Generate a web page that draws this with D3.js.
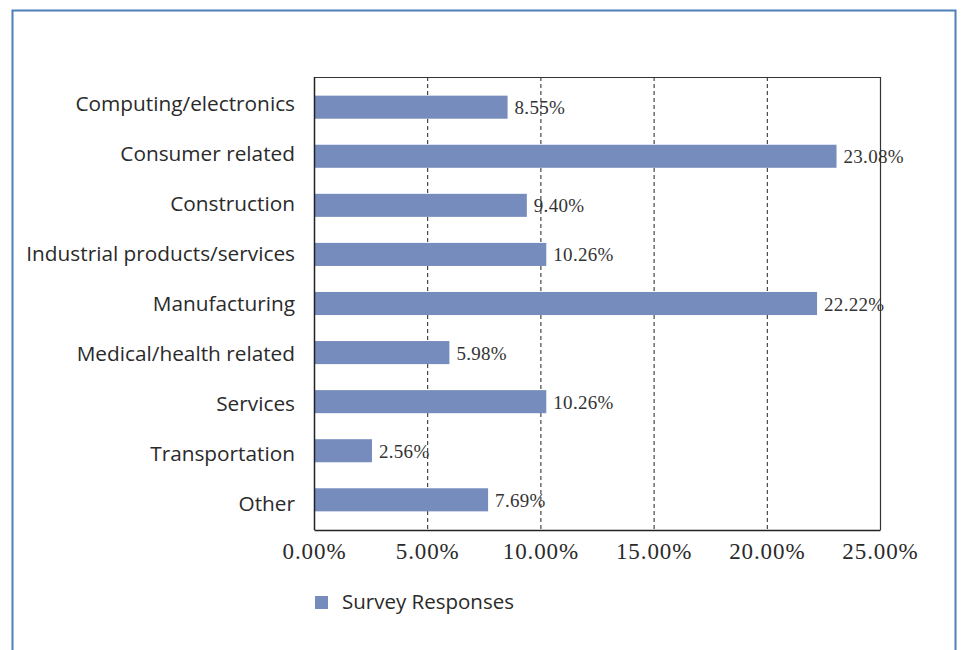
<!DOCTYPE html>
<html>
<head>
<meta charset="utf-8">
<script src="https://cdn.jsdelivr.net/npm/d3@7"></script>
<style>
  html, body { margin: 0; padding: 0; background: #fff; }
  svg { display: block; }
</style>
</head>
<body>
<svg id="chart" width="962" height="650"></svg>
<script>
// Industry breakdown of survey responses (percent of respondents)
const categories = [
  "Computing/electronics",
  "Consumer related",
  "Construction",
  "Industrial products/services",
  "Manufacturing",
  "Medical/health related",
  "Services",
  "Transportation",
  "Other"
];
const values = [8.55, 23.08, 9.40, 10.26, 22.22, 5.98, 10.26, 2.56, 7.69];
const xTicks = [0, 5, 10, 15, 20, 25];
const seriesName = "Survey Responses";

const svg = d3.select("#chart");
const barColor = "#768cbc";
const sansFont = "'Open Sans', 'Noto Sans', sans-serif";
const serifFont = "'Liberation Serif', 'DejaVu Serif', serif";

// outer frame
svg.append("rect")
  .attr("x", 12.5).attr("y", 10.5)
  .attr("width", 943).attr("height", 660)
  .attr("fill", "none")
  .attr("stroke", "#4f7fb8")
  .attr("stroke-width", 2);

const plot = { left: 314, right: 880, top: 77, bottom: 530 };

const x = d3.scaleLinear().domain([0, 25]).range([plot.left, plot.right]);
const y = d3.scaleBand()
  .domain(categories)
  .range([plot.top, plot.bottom])
  .paddingInner(0.53)
  .paddingOuter(0.38);
// category labels sit on a slightly wider rhythm than the bars
const yLabel = d3.scalePoint()
  .domain(categories)
  .range([plot.top + 26.5, plot.bottom - 26.5]);

// dashed vertical gridlines
svg.append("g")
  .selectAll("line")
  .data(xTicks.filter(t => t > 0 && t < 25))
  .join("line")
  .attr("x1", d => x(d) + 0.5).attr("x2", d => x(d) + 0.5)
  .attr("y1", plot.top).attr("y2", plot.bottom)
  .attr("stroke", "#222")
  .attr("stroke-width", 1)
  .attr("stroke-dasharray", "4,3");

// bars
svg.append("g")
  .selectAll("rect")
  .data(values)
  .join("rect")
  .attr("x", x(0))
  .attr("y", (d, i) => y(categories[i]))
  .attr("width", d => x(d) - x(0))
  .attr("height", y.bandwidth())
  .attr("fill", barColor);

// plot box (top and right edges)
svg.append("path")
  .attr("d", `M${plot.left},${plot.top + 0.5}H${plot.right + 0.5}V${plot.bottom}`)
  .attr("fill", "none")
  .attr("stroke", "#333")
  .attr("stroke-width", 1.2);

// value labels
svg.append("g")
  .selectAll("text")
  .data(values)
  .join("text")
  .attr("x", d => x(d) + 7)
  .attr("y", (d, i) => y(categories[i]) + y.bandwidth() / 2 + 7)
  .attr("font-family", serifFont)
  .attr("font-size", 19)
  .attr("letter-spacing", 0.3)
  .attr("fill", "#333")
  .text(d => d.toFixed(2) + "%");

// y axis (labels)
const yAxis = d3.axisLeft(yLabel).tickSize(0).tickPadding(19);
const gy = svg.append("g")
  .attr("transform", `translate(${plot.left},0)`)
  .call(yAxis);
gy.select(".domain").remove();
gy.selectAll("text")
  .attr("font-family", sansFont)
  .attr("font-size", 20.8)
  .attr("fill", "#2a2a2a");
// y axis line
svg.append("line")
  .attr("x1", plot.left + 0.5).attr("x2", plot.left + 0.5)
  .attr("y1", plot.top).attr("y2", plot.bottom)
  .attr("stroke", "#222").attr("stroke-width", 1.5);

// x axis
const xAxis = d3.axisBottom(x)
  .tickValues(xTicks)
  .tickSize(0)
  .tickPadding(13)
  .tickFormat(d => d.toFixed(2) + "%");
const gx = svg.append("g")
  .attr("transform", `translate(0,${plot.bottom})`)
  .call(xAxis);
gx.select(".domain").attr("stroke", "#222").attr("stroke-width", 1.5);
gx.selectAll("text")
  .attr("font-family", serifFont)
  .attr("font-size", 23)
  .attr("letter-spacing", 0.9)
  .attr("fill", "#2a2a2a");

// legend
const legend = svg.append("g").attr("transform", "translate(315,596)");
legend.append("rect")
  .attr("width", 13).attr("height", 13)
  .attr("fill", barColor);
legend.append("text")
  .attr("x", 27).attr("y", 13)
  .attr("font-family", sansFont)
  .attr("font-size", 20.5)
  .attr("fill", "#2a2a2a")
  .text(seriesName);
</script>
</body>
</html>
